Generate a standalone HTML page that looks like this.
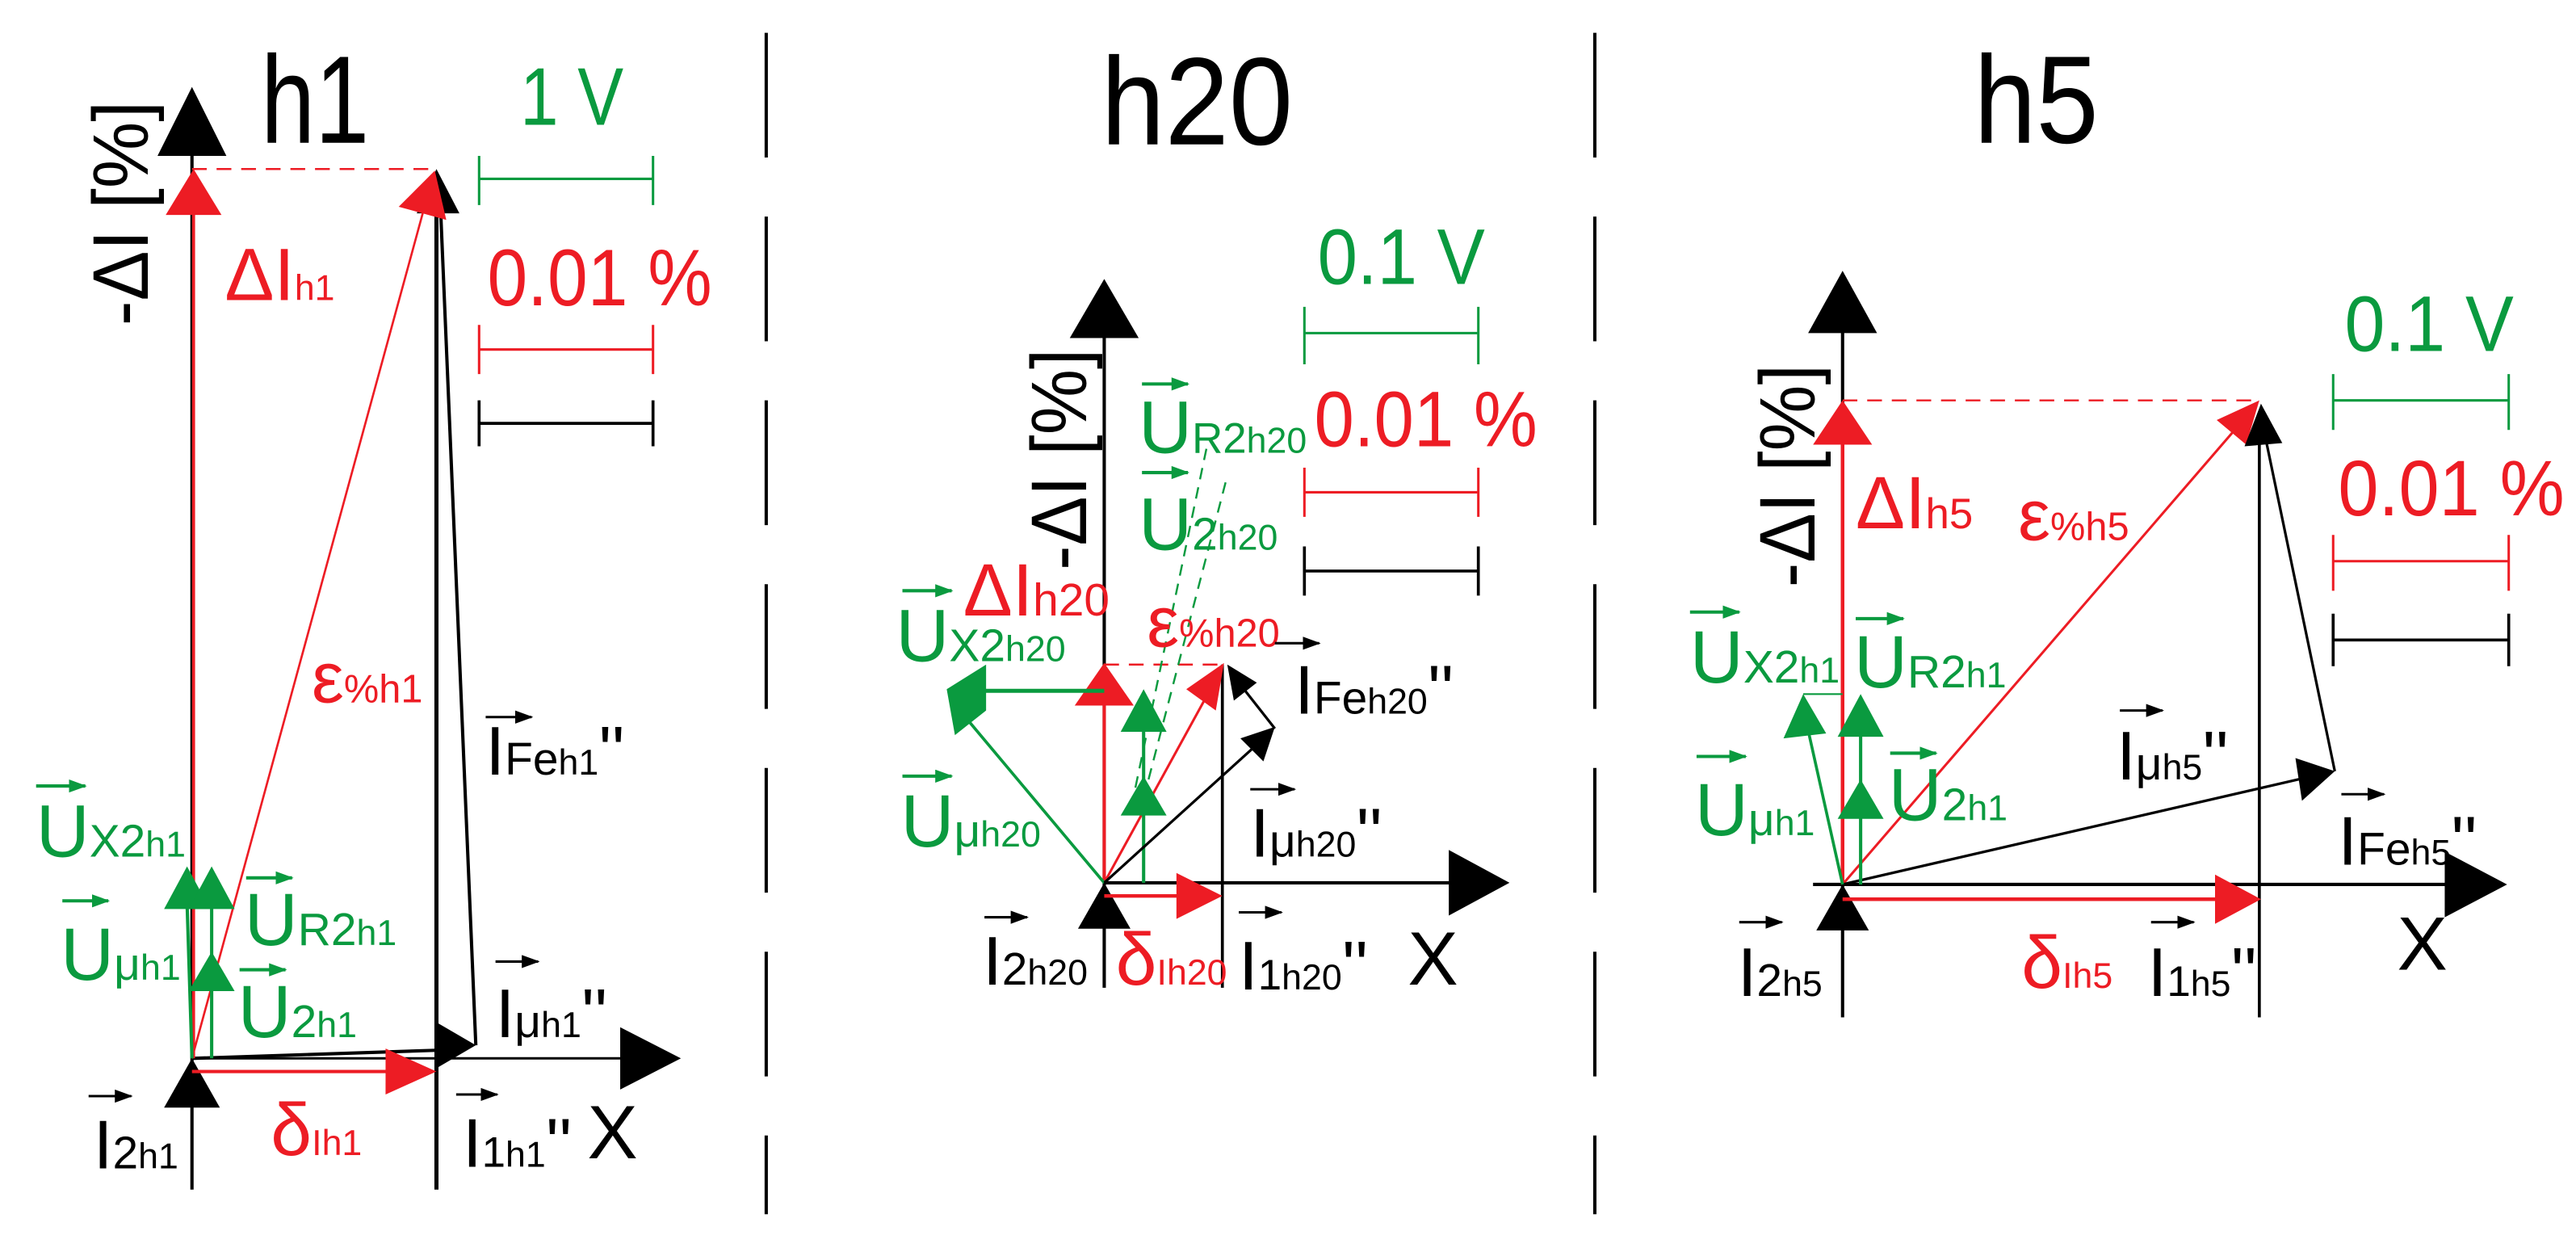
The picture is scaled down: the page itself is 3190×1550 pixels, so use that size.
<!DOCTYPE html>
<html><head><meta charset="utf-8"><style>
html,body{margin:0;padding:0;background:#fff;}
svg{display:block;font-family:"Liberation Sans",Arial,sans-serif;}
.r{fill:#ed1c24}.g{fill:#0a9a3f}.k{fill:#000}
.s{font-size:22px}
</style></head><body>
<svg width="3190" height="1550" viewBox="0 0 1570 763" preserveAspectRatio="none" xmlns="http://www.w3.org/2000/svg">
<defs>
<marker id="mg" markerUnits="userSpaceOnUse" markerWidth="12" markerHeight="10" refX="10" refY="4" orient="auto"><path d="M0,0 L11,4 L0,8 z" fill="#0a9a3f"/></marker>
<marker id="mk" markerUnits="userSpaceOnUse" markerWidth="12" markerHeight="10" refX="10" refY="4" orient="auto"><path d="M0,0 L11,4 L0,8 z" fill="#000"/></marker>
</defs>
<rect width="1570" height="763" fill="#fff"/>

<!-- separators -->
<line x1="467" y1="20" x2="467" y2="740" stroke="#000" stroke-width="2" stroke-dasharray="76 36"/>
<line x1="972" y1="20" x2="972" y2="740" stroke="#000" stroke-width="2" stroke-dasharray="76 36"/>

<!-- ============ h1 ============ -->
<text x="159" y="87" font-size="76" textLength="66" lengthAdjust="spacingAndGlyphs" class="k">h1</text>
<text transform="translate(90,130) rotate(-90)" text-anchor="middle" font-size="48" textLength="137" lengthAdjust="spacingAndGlyphs" class="k">-ΔI [%]</text>
<line x1="117" y1="725" x2="117" y2="92" stroke="#000" stroke-width="2"/>
<polygon points="117,53 96,95 138,95" fill="#000"/>
<line x1="117" y1="645" x2="380" y2="645" stroke="#000" stroke-width="1.5"/>
<polygon points="415,645 378,626 378,664" fill="#000"/>
<polygon points="117,645 100,675 134,675" fill="#000"/>
<line x1="266" y1="108" x2="266" y2="725" stroke="#000" stroke-width="2.5"/>
<line x1="117" y1="645" x2="268" y2="640" stroke="#000" stroke-width="2"/>
<polygon points="290,637 266,623 266,651" fill="#000"/>
<line x1="290" y1="637" x2="268" y2="115" stroke="#000" stroke-width="2"/>
<polygon points="266,103 254,130 280,130" fill="#000"/>
<line x1="117" y1="103" x2="266" y2="103" stroke="#ed1c24" stroke-width="1.2" stroke-dasharray="9 6"/>
<line x1="118" y1="645" x2="118" y2="125" stroke="#ed1c24" stroke-width="1.8"/>
<polygon points="118,103 101,131 135,131" fill="#ed1c24"/>
<line x1="117" y1="645" x2="259" y2="125" stroke="#ed1c24" stroke-width="1.3"/>
<polygon points="265,104 243,126 272,134" fill="#ed1c24"/>
<line x1="117" y1="653" x2="236" y2="653" stroke="#ed1c24" stroke-width="2"/>
<polygon points="266,653 235,639 235,667" fill="#ed1c24"/>
<line x1="117" y1="645" x2="114" y2="550" stroke="#0a9a3f" stroke-width="2"/>
<line x1="129" y1="645" x2="129" y2="550" stroke="#0a9a3f" stroke-width="2"/>
<polygon points="114,528 100,554 128,554" fill="#0a9a3f"/>
<polygon points="129,528 115,554 143,554" fill="#0a9a3f"/>
<polygon points="129,580 115,604 143,604" fill="#0a9a3f"/>
<text x="317" y="76" font-size="50" textLength="63" lengthAdjust="spacingAndGlyphs" class="g">1 V</text>
<path d="M292,95 V125 M292,109 H398 M398,95 V125" stroke="#0a9a3f" stroke-width="1.5" fill="none"/>
<text x="297" y="186" font-size="49" textLength="137" lengthAdjust="spacingAndGlyphs" class="r">0.01 %</text>
<path d="M292,198 V228 M292,213 H398 M398,198 V228" stroke="#ed1c24" stroke-width="1.5" fill="none"/>
<path d="M292,244 V272 M292,258 H398 M398,244 V272" stroke="#000" stroke-width="1.8" fill="none"/>
<text x="137" y="183" font-size="45" class="r">ΔI<tspan class="s">h1</tspan></text>
<text x="190" y="428" font-size="44" class="r">ε<tspan font-size="24">%h1</tspan></text>
<path d="M296,437 H324" stroke="#000" stroke-width="1.5" marker-end="url(#mk)"/>
<text x="296" y="472" font-size="42" class="k">I<tspan font-size="28">Fe</tspan><tspan class="s">h1</tspan>''</text>
<path d="M22,479 H52" stroke="#0a9a3f" stroke-width="2" marker-end="url(#mg)"/>
<text x="22" y="522" font-size="45" class="g">U<tspan font-size="28">X2</tspan><tspan class="s">h1</tspan></text>
<path d="M38,549 H66" stroke="#0a9a3f" stroke-width="2" marker-end="url(#mg)"/>
<text x="37" y="597" font-size="45" class="g">U<tspan font-size="28">μ</tspan><tspan class="s">h1</tspan></text>
<path d="M150,535 H178" stroke="#0a9a3f" stroke-width="2" marker-end="url(#mg)"/>
<text x="149" y="576" font-size="45" class="g">U<tspan font-size="28">R2</tspan><tspan class="s">h1</tspan></text>
<path d="M146,591 H174" stroke="#0a9a3f" stroke-width="2" marker-end="url(#mg)"/>
<text x="145" y="632" font-size="45" class="g">U<tspan font-size="28">2</tspan><tspan class="s">h1</tspan></text>
<path d="M302,586 H328" stroke="#000" stroke-width="1.5" marker-end="url(#mk)"/>
<text x="302" y="632" font-size="42" class="k">I<tspan font-size="28">μ</tspan><tspan class="s">h1</tspan>''</text>
<path d="M54,668 H80" stroke="#000" stroke-width="1.5" marker-end="url(#mk)"/>
<text x="57" y="712" font-size="42" class="k">I<tspan font-size="28">2</tspan><tspan class="s">h1</tspan></text>
<text x="165" y="704" font-size="45" class="r">δ<tspan class="s">Ih1</tspan></text>
<path d="M278,667 H303" stroke="#000" stroke-width="1.5" marker-end="url(#mk)"/>
<text x="282" y="711" font-size="42" class="k">I<tspan font-size="26">1</tspan><tspan class="s">h1</tspan>''</text>
<text x="358" y="706" font-size="46" class="k">X</text>

<!-- ============ h20 ============ -->
<text x="671" y="88" font-size="76" textLength="117" lengthAdjust="spacingAndGlyphs" class="k">h20</text>
<text transform="translate(662,280) rotate(-90)" text-anchor="middle" font-size="48" textLength="135" lengthAdjust="spacingAndGlyphs" class="k">-ΔI [%]</text>
<line x1="673" y1="602" x2="673" y2="204" stroke="#000" stroke-width="2"/>
<polygon points="673,170 652,206 694,206" fill="#000"/>
<line x1="673" y1="538" x2="885" y2="538" stroke="#000" stroke-width="2"/>
<polygon points="920,538 883,518 883,558" fill="#000"/>
<polygon points="673,538 657,566 689,566" fill="#000"/>
<line x1="745" y1="405" x2="745" y2="602" stroke="#000" stroke-width="1.8"/>
<line x1="673" y1="405" x2="745" y2="405" stroke="#ed1c24" stroke-width="1.2" stroke-dasharray="9 6"/>
<line x1="673" y1="538" x2="673" y2="430" stroke="#ed1c24" stroke-width="2"/>
<polygon points="673,404 655,430 691,430" fill="#ed1c24"/>
<line x1="673" y1="538" x2="735" y2="425" stroke="#ed1c24" stroke-width="1.5"/>
<polygon points="746,404 723,420 741,433" fill="#ed1c24"/>
<line x1="673" y1="546" x2="720" y2="546" stroke="#ed1c24" stroke-width="2.2"/>
<polygon points="745,546 717,532 717,560" fill="#ed1c24"/>
<line x1="692" y1="480" x2="736" y2="270" stroke="#0a9a3f" stroke-width="1.2" stroke-dasharray="7 5"/>
<line x1="700" y1="475" x2="748" y2="290" stroke="#0a9a3f" stroke-width="1.2" stroke-dasharray="7 5"/>
<line x1="673" y1="421" x2="600" y2="421" stroke="#0a9a3f" stroke-width="2.5"/>
<polygon points="601,405 601,433 582,448 577,420" fill="#0a9a3f"/>
<line x1="673" y1="538" x2="590" y2="439" stroke="#0a9a3f" stroke-width="1.8"/>
<line x1="697" y1="538" x2="697" y2="440" stroke="#0a9a3f" stroke-width="2"/>
<polygon points="697,420 683,446 711,446" fill="#0a9a3f"/>
<polygon points="697,473 683,497 711,497" fill="#0a9a3f"/>
<line x1="673" y1="538" x2="768" y2="452" stroke="#000" stroke-width="1.6"/>
<polygon points="777,443 756,450 770,464" fill="#000"/>
<line x1="777" y1="444" x2="755" y2="416" stroke="#000" stroke-width="1.6"/>
<polygon points="748,405 752,427 766,416" fill="#000"/>
<text x="803" y="173" font-size="48" textLength="102" lengthAdjust="spacingAndGlyphs" class="g">0.1 V</text>
<path d="M795,187 V222 M795,203 H901 M901,187 V222" stroke="#0a9a3f" stroke-width="1.5" fill="none"/>
<text x="801" y="272" font-size="48" textLength="136" lengthAdjust="spacingAndGlyphs" class="r">0.01 %</text>
<path d="M795,285 V315 M795,300 H901 M901,285 V315" stroke="#ed1c24" stroke-width="1.5" fill="none"/>
<path d="M795,333 V363 M795,348 H901 M901,333 V363" stroke="#000" stroke-width="1.8" fill="none"/>
<path d="M696,234 H724" stroke="#0a9a3f" stroke-width="2" marker-end="url(#mg)"/>
<text x="694" y="276" font-size="45" class="g">U<tspan font-size="26">R2</tspan><tspan class="s">h20</tspan></text>
<path d="M696,288 H724" stroke="#0a9a3f" stroke-width="2" marker-end="url(#mg)"/>
<text x="694" y="335" font-size="45" class="g">U<tspan font-size="28">2</tspan><tspan class="s">h20</tspan></text>
<text x="587" y="375" font-size="45" class="r">ΔI<tspan font-size="28">h20</tspan></text>
<path d="M550,360 H580" stroke="#0a9a3f" stroke-width="2" marker-end="url(#mg)"/>
<text x="546" y="403" font-size="45" class="g">U<tspan font-size="28">X2</tspan><tspan class="s">h20</tspan></text>
<text x="699" y="394" font-size="44" class="r">ε<tspan font-size="24">%h20</tspan></text>
<path d="M777,392 H804" stroke="#000" stroke-width="1.5" marker-end="url(#mk)"/>
<text x="789" y="435" font-size="42" class="k">I<tspan font-size="28">Fe</tspan><tspan class="s">h20</tspan>''</text>
<path d="M550,473 H580" stroke="#0a9a3f" stroke-width="2" marker-end="url(#mg)"/>
<text x="549" y="516" font-size="45" class="g">U<tspan font-size="28">μ</tspan><tspan class="s">h20</tspan></text>
<path d="M762,481 H789" stroke="#000" stroke-width="1.5" marker-end="url(#mk)"/>
<text x="762" y="522" font-size="42" class="k">I<tspan font-size="28">μ</tspan><tspan class="s">h20</tspan>''</text>
<path d="M600,559 H626" stroke="#000" stroke-width="1.5" marker-end="url(#mk)"/>
<text x="599" y="600" font-size="42" class="k">I<tspan font-size="28">2</tspan><tspan class="s">h20</tspan></text>
<text x="680" y="600" font-size="45" class="r">δ<tspan class="s">Ih20</tspan></text>
<path d="M755,556 H781" stroke="#000" stroke-width="1.5" marker-end="url(#mk)"/>
<text x="755" y="603" font-size="42" class="k">I<tspan font-size="26">1</tspan><tspan class="s">h20</tspan>''</text>
<text x="858" y="600" font-size="46" class="k">X</text>

<!-- ============ h5 ============ -->
<text x="1203" y="87" font-size="76" textLength="76" lengthAdjust="spacingAndGlyphs" class="k">h5</text>
<text transform="translate(1106,290) rotate(-90)" text-anchor="middle" font-size="48" textLength="136" lengthAdjust="spacingAndGlyphs" class="k">-ΔI [%]</text>
<line x1="1123" y1="620" x2="1123" y2="200" stroke="#000" stroke-width="2"/>
<polygon points="1123,165 1102,203 1144,203" fill="#000"/>
<line x1="1105" y1="539" x2="1492" y2="539" stroke="#000" stroke-width="2"/>
<polygon points="1528,539 1490,519 1490,559" fill="#000"/>
<polygon points="1123,539 1107,567 1139,567" fill="#000"/>
<line x1="1377" y1="255" x2="1377" y2="620" stroke="#000" stroke-width="1.8"/>
<line x1="1123" y1="244" x2="1377" y2="244" stroke="#ed1c24" stroke-width="1.2" stroke-dasharray="9 6"/>
<line x1="1123" y1="539" x2="1123" y2="268" stroke="#ed1c24" stroke-width="2.2"/>
<polygon points="1123,244 1105,271 1141,271" fill="#ed1c24"/>
<line x1="1123" y1="539" x2="1362" y2="262" stroke="#ed1c24" stroke-width="1.5"/>
<polygon points="1377,244 1351,256 1369,271" fill="#ed1c24"/>
<line x1="1123" y1="548" x2="1350" y2="548" stroke="#ed1c24" stroke-width="2.2"/>
<polygon points="1378,548 1350,533 1350,563" fill="#ed1c24"/>
<line x1="1123" y1="539" x2="1405" y2="474" stroke="#000" stroke-width="1.6"/>
<polygon points="1423,470 1399,462 1403,488" fill="#000"/>
<line x1="1423" y1="470" x2="1381" y2="268" stroke="#000" stroke-width="1.6"/>
<polygon points="1378,246 1368,272 1391,270" fill="#000"/>
<line x1="1123" y1="539" x2="1102" y2="445" stroke="#0a9a3f" stroke-width="1.8"/>
<polygon points="1099,423 1087,450 1113,447" fill="#0a9a3f"/>
<line x1="1099" y1="423" x2="1123" y2="423" stroke="#0a9a3f" stroke-width="1"/>
<line x1="1134" y1="539" x2="1134" y2="445" stroke="#0a9a3f" stroke-width="2"/>
<polygon points="1134,423 1120,449 1148,449" fill="#0a9a3f"/>
<polygon points="1134,475 1120,499 1148,499" fill="#0a9a3f"/>
<text x="1429" y="214" font-size="48" textLength="103" lengthAdjust="spacingAndGlyphs" class="g">0.1 V</text>
<path d="M1422,228 V262 M1422,244 H1529 M1529,228 V262" stroke="#0a9a3f" stroke-width="1.5" fill="none"/>
<text x="1425" y="314" font-size="48" textLength="138" lengthAdjust="spacingAndGlyphs" class="r">0.01 %</text>
<path d="M1422,326 V360 M1422,342 H1529 M1529,326 V360" stroke="#ed1c24" stroke-width="1.5" fill="none"/>
<path d="M1422,374 V406 M1422,390 H1529 M1529,374 V406" stroke="#000" stroke-width="1.8" fill="none"/>
<text x="1131" y="322" font-size="45" class="r">ΔI<tspan font-size="26">h5</tspan></text>
<text x="1230" y="329" font-size="44" class="r">ε<tspan font-size="24">%h5</tspan></text>
<path d="M1030,373 H1060" stroke="#0a9a3f" stroke-width="2" marker-end="url(#mg)"/>
<text x="1030" y="416" font-size="45" class="g">U<tspan font-size="28">X2</tspan><tspan class="s">h1</tspan></text>
<path d="M1131,377 H1160" stroke="#0a9a3f" stroke-width="2" marker-end="url(#mg)"/>
<text x="1130" y="419" font-size="45" class="g">U<tspan font-size="28">R2</tspan><tspan class="s">h1</tspan></text>
<path d="M1034,461 H1064" stroke="#0a9a3f" stroke-width="2" marker-end="url(#mg)"/>
<text x="1033" y="509" font-size="45" class="g">U<tspan font-size="28">μ</tspan><tspan class="s">h1</tspan></text>
<path d="M1152,459 H1180" stroke="#0a9a3f" stroke-width="2" marker-end="url(#mg)"/>
<text x="1151" y="500" font-size="45" class="g">U<tspan font-size="28">2</tspan><tspan class="s">h1</tspan></text>
<path d="M1292,433 H1318" stroke="#000" stroke-width="1.5" marker-end="url(#mk)"/>
<text x="1290" y="475" font-size="42" class="k">I<tspan font-size="28">μ</tspan><tspan class="s">h5</tspan>''</text>
<path d="M1427,484 H1453" stroke="#000" stroke-width="1.5" marker-end="url(#mk)"/>
<text x="1425" y="527" font-size="42" class="k">I<tspan font-size="28">Fe</tspan><tspan class="s">h5</tspan>''</text>
<path d="M1060,562 H1086" stroke="#000" stroke-width="1.5" marker-end="url(#mk)"/>
<text x="1059" y="607" font-size="42" class="k">I<tspan font-size="28">2</tspan><tspan class="s">h5</tspan></text>
<text x="1232" y="602" font-size="45" class="r">δ<tspan class="s">Ih5</tspan></text>
<path d="M1311,562 H1337" stroke="#000" stroke-width="1.5" marker-end="url(#mk)"/>
<text x="1309" y="607" font-size="42" class="k">I<tspan font-size="26">1</tspan><tspan class="s">h5</tspan>''</text>
<text x="1461" y="591" font-size="46" class="k">X</text>
</svg>
</body></html>
